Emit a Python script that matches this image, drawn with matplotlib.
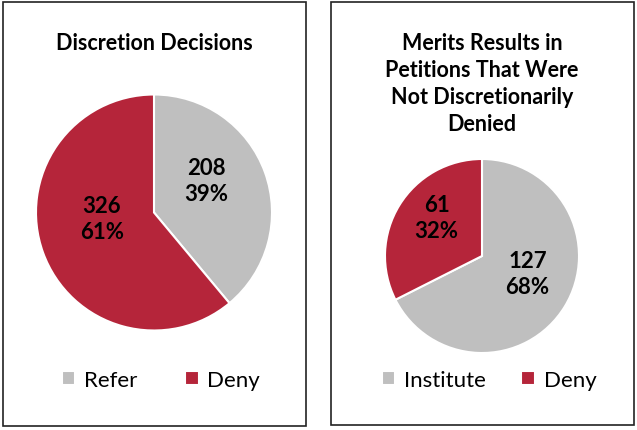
import numpy as np
import matplotlib.pyplot as plt
from matplotlib.patches import Rectangle

plt.rcParams['font.family'] = ['Lato', 'DejaVu Sans']

# data
left_labels = ['Refer', 'Deny']
left_values = [208, 326]
right_labels = ['Institute', 'Deny']
right_values = [127, 61]
left_title = 'Discretion Decisions'
right_title = 'Merits Results in\nPetitions That Were\nNot Discretionarily\nDenied'

colors = ['#BFBFBF', '#B5253A']
W, H = 637, 431

fig = plt.figure(figsize=(W / 100, H / 100), dpi=100)


def px_box(x0, y0, x1, y1):
    # pixel box (top-left origin) -> figure fraction rect
    return [x0 / W, 1 - y1 / H, (x1 - x0) / W, (y1 - y0) / H]


# panel frames
for (x0, y0, x1, y1) in [(3, 3, 306, 427), (331, 3, 634, 426)]:
    fig.add_artist(Rectangle((x0 / W, 1 - y1 / H), (x1 - x0) / W, (y1 - y0) / H,
                             transform=fig.transFigure, fill=False,
                             edgecolor='#222222', linewidth=1.2))


def draw_pie(cx, cy, r, values, labels, title, title_y, legend_x, legend_y,
             colsp, d):
    ax = fig.add_axes(px_box(cx - r, cy - r, cx + r, cy + r))
    total = sum(values)
    wedges, _ = ax.pie(values, colors=colors, startangle=90, counterclock=False,
                       radius=1.0, wedgeprops=dict(edgecolor='white', linewidth=1.5))
    # value/percent labels near the wedge middle (Excel puts them a bit higher)
    for w, v in zip(wedges, values):
        ang = np.deg2rad((w.theta1 + w.theta2) / 2)
        ax.text(d * np.cos(ang), d * np.sin(ang) + 0.11,
                f'{v}\n{round(100 * v / total)}%',
                ha='center', va='center', fontsize=16, fontweight='bold',
                linespacing=1.3, color='black')
    ax.set_xlim(-1, 1)
    ax.set_ylim(-1, 1)
    ax.set_aspect('equal')
    fig.text(cx / W, 1 - title_y / H, title, ha='center', va='center',
             fontsize=15.5, fontweight='bold', linespacing=1.36)
    fig.legend(wedges, labels, loc='center', ncol=2,
               bbox_to_anchor=(legend_x / W, 1 - legend_y / H), frameon=False,
               fontsize=16, handlelength=0.6, handleheight=0.6,
               handletextpad=0.4, columnspacing=colsp)
    return ax


draw_pie(154, 213.5, 118, left_values, left_labels, left_title, 43, 161, 381, 2.15, 0.47)
draw_pie(482, 257, 97, right_values, right_labels, right_title, 84, 489, 381, 1.6, 0.55)

fig.savefig('out.png', dpi=100)
